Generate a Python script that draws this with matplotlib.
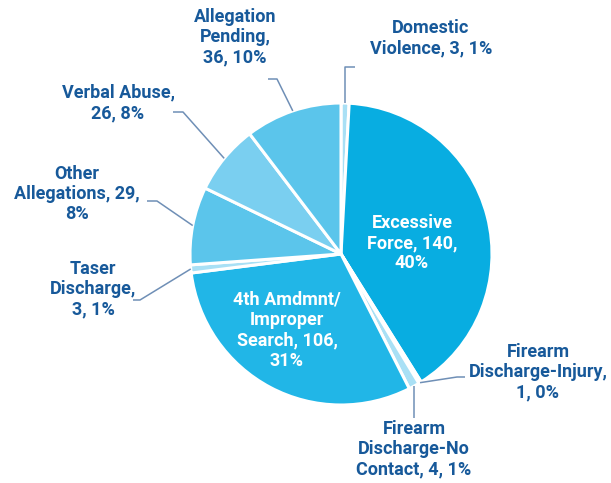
import numpy as np
import matplotlib
matplotlib.use("Agg")
import matplotlib.pyplot as plt

# slices, clockwise from 12 o'clock
names = ["Domestic Violence", "Excessive Force", "Firearm Discharge-Injury",
         "Firearm Discharge-No Contact", "4th Amdmnt/Improper Search",
         "Taser Discharge", "Other Allegations", "Verbal Abuse", "Allegation Pending"]
counts = [3, 140, 1, 4, 106, 3, 29, 26, 36]
pcts = [1, 40, 0, 1, 31, 1, 8, 8, 10]
templates = ["Domestic\nViolence, {n}, {p}%",
             "Excessive\nForce, {n},\n{p}%",
             "Firearm\nDischarge-Injury,\n{n}, {p}%",
             "Firearm\nDischarge-No\nContact, {n}, {p}%",
             "4th Amdmnt/\nImproper\nSearch, {n},\n{p}%",
             "Taser\nDischarge,\n{n}, {p}%",
             "Other\nAllegations, {n},\n{p}%",
             "Verbal Abuse,\n{n}, {p}%",
             "Allegation\nPending,\n{n}, {p}%"]
colors = ["#a9e0f5", "#08ade1", "#a9e0f5", "#a9e0f5", "#21b6e7",
          "#a9e0f5", "#5bc5eb", "#7acff0", "#5bc5eb"]

# layout (pixels): pie centre + radius, label centres, leader stubs
CX, CY, R = 341, 254, 151
W, H = 611, 483
lab_pos = [(431, 38), (412, 243), (538, 372), (414, 449), (287, 330),
           (93, 289), (77, 194), (118, 103), (235, 37)]
inside = [False, True, False, False, True, False, False, False, False]
stubs = {0: [(355, 67), ("v", 67)], 2: [(465, 377), (457, 377)],
         3: [("v", 418)], 5: [(133, 300), (140, 300)],
         6: [(147, 201), (157, 201)], 7: [(173, 112), (183, 112)],
         8: [(268, 79), (277, 79)]}

def px(x, y):
    return (x - CX) / R, (CY - y) / R

txt = "#17599a"
lead = "#6f8fb6"
plt.rcParams['font.family'] = ['Roboto', 'Liberation Sans', 'DejaVu Sans']

fig = plt.figure(figsize=(W / 100, H / 100), dpi=100)
ax = fig.add_axes([0, 0, 1, 1])
wedges, _ = ax.pie(counts, colors=colors, startangle=90, counterclock=False,
                   radius=1.0, wedgeprops=dict(edgecolor="white", linewidth=2.2))
ax.set_xlim(px(0, 0)[0], px(W, 0)[0])
ax.set_ylim(px(0, H)[1], px(0, 0)[1])
ax.set_aspect("equal")
ax.axis("off")

for i, w in enumerate(wedges):
    s = templates[i].format(n=counts[i], p=pcts[i])
    x, y = px(*lab_pos[i])
    ax.text(x, y, s, ha="center", va="center", multialignment="center",
            fontsize=13, fontweight="bold", linespacing=1.17,
            color="white" if inside[i] else txt)
    if i in stubs:
        mid = np.deg2rad((w.theta1 + w.theta2) / 2)
        ex, ey = np.cos(mid), np.sin(mid)
        pts = []
        for p in stubs[i]:
            if p[0] == "v":
                pts.append((ex, px(0, p[1])[1]))
            else:
                pts.append(px(*p))
        pts.append((ex, ey))
        xs, ys = zip(*pts)
        ax.plot(xs, ys, color=lead, lw=1.1, solid_capstyle="butt")

fig.savefig("out.png", dpi=100)
